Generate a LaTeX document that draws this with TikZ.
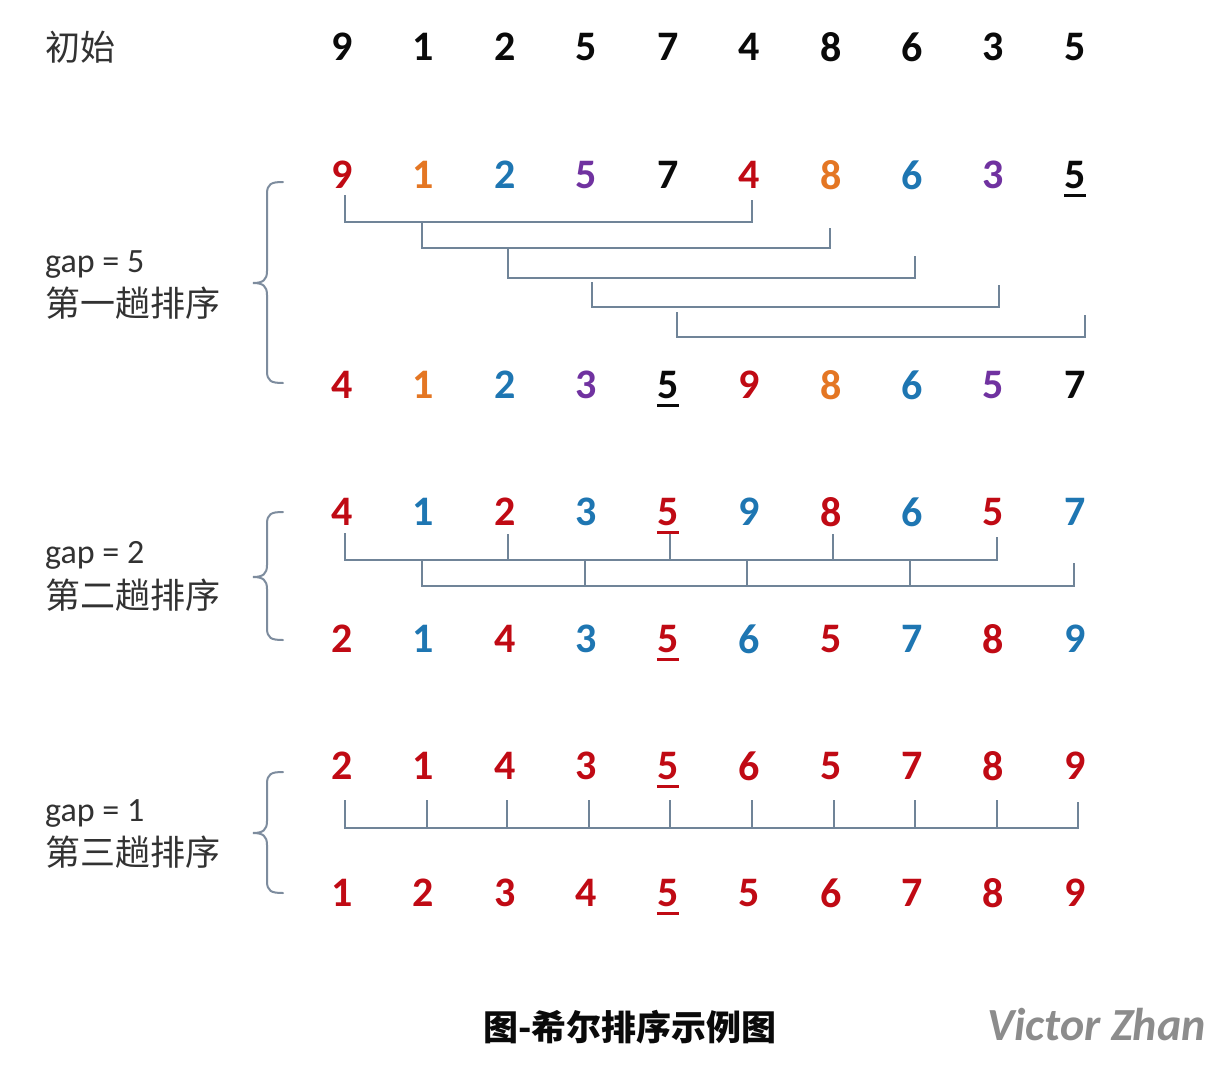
\documentclass[tikz,border=0pt]{standalone}
\usepackage{fontspec}
\setmainfont{Carlito}
\newfontfamily\cjk{Noto Sans CJK SC}
\newfontfamily\numfont{Carlito}
\definecolor{R}{RGB}{192,10,20}
\definecolor{O}{RGB}{228,118,35}
\definecolor{B}{RGB}{30,118,178}
\definecolor{P}{RGB}{112,50,160}
\definecolor{K}{RGB}{10,10,10}
\definecolor{conncol}{RGB}{112,132,152}
\definecolor{bracecol}{RGB}{125,140,158}
\definecolor{labcol}{RGB}{50,50,50}
\tikzset{
  dg/.style={font=\numfont\bfseries\fontsize{42}{42}\selectfont, inner sep=0pt, anchor=center},
  conn/.style={draw=conncol, line width=2pt},
  bracepath/.style={draw=bracecol, line width=2pt, line cap=round},
  lab/.style={font=\fontsize{34}{34}\selectfont, text=labcol, inner sep=0pt, anchor=base west},
  cjklab/.style={font=\cjk\fontsize{35}{35}\selectfont, text=labcol, inner sep=0pt, anchor=west},
  ul/.style={line width=3pt}
}
\begin{document}
\begin{tikzpicture}[x=1pt,y=-1pt]
\clip (0,0) rectangle (1208,1074);
\fill[white] (0,0) rectangle (1208,1074);

% rows of digits
\foreach \d/\c [count=\i] in {9/K,1/K,2/K,5/K,7/K,4/K,8/K,6/K,3/K,5/K}
  \node[dg,text=\c] (r1c\i) at ({342+81.44*(\i-1)},47) {\d};
\foreach \d/\c [count=\i] in {9/R,1/O,2/B,5/P,7/K,4/R,8/O,6/B,3/P,5/K}
  \node[dg,text=\c] (r2c\i) at ({342+81.44*(\i-1)},175) {\d};
\foreach \d/\c [count=\i] in {4/R,1/O,2/B,3/P,5/K,9/R,8/O,6/B,5/P,7/K}
  \node[dg,text=\c] (r3c\i) at ({342+81.44*(\i-1)},385) {\d};
\foreach \d/\c [count=\i] in {4/R,1/B,2/R,3/B,5/R,9/B,8/R,6/B,5/R,7/B}
  \node[dg,text=\c] (r4c\i) at ({342+81.44*(\i-1)},512) {\d};
\foreach \d/\c [count=\i] in {2/R,1/B,4/R,3/B,5/R,6/B,5/R,7/B,8/R,9/B}
  \node[dg,text=\c] (r5c\i) at ({342+81.44*(\i-1)},639) {\d};
\foreach \d/\c [count=\i] in {2/R,1/R,4/R,3/R,5/R,6/R,5/R,7/R,8/R,9/R}
  \node[dg,text=\c] (r6c\i) at ({342+81.44*(\i-1)},766) {\d};
\foreach \d/\c [count=\i] in {1/R,2/R,3/R,4/R,5/R,5/R,6/R,7/R,8/R,9/R}
  \node[dg,text=\c] (r7c\i) at ({342+81.44*(\i-1)},893) {\d};

% underlines
\draw[ul,K] ([yshift=-7pt]r2c10.south west) -- ([yshift=-7pt]r2c10.south east);
\draw[ul,K] ([yshift=-7pt]r3c5.south west) -- ([yshift=-7pt]r3c5.south east);
\draw[ul,R] ([yshift=-7pt]r4c5.south west) -- ([yshift=-7pt]r4c5.south east);
\draw[ul,R] ([yshift=-7pt]r5c5.south west) -- ([yshift=-7pt]r5c5.south east);
\draw[ul,R] ([yshift=-7pt]r6c5.south west) -- ([yshift=-7pt]r6c5.south east);
\draw[ul,R] ([yshift=-7pt]r7c5.south west) -- ([yshift=-7pt]r7c5.south east);

% gap = 5 connectors
\draw[conn] (345,195) |- (752,222) -- (752,200);
\draw[conn] (422,222) |- (830,248) -- (830,228);
\draw[conn] (508,248) |- (915,278) -- (915,256);
\draw[conn] (592,282) |- (999,307) -- (999,285);
\draw[conn] (677,312) |- (1085,337) -- (1085,315);

% gap = 2 connectors
\draw[conn] (345,533) |- (997,560) -- (997,537);
\foreach \x in {508,670,833} \draw[conn] (\x,534) -- (\x,560);
\draw[conn] (422,560) |- (1074,586) -- (1074,563);
\foreach \x in {585,747,910} \draw[conn] (\x,560) -- (\x,586);

% gap = 1 connector
\draw[conn] (345,800) |- (1078,828) -- (1078,802);
\foreach \x in {427,507,589,670,752,834,915,997} \draw[conn] (\x,800) -- (\x,828);

% braces
\foreach \t/\m/\b in {182/283/383, 512/577/640, 772/833/893}{
  \draw[bracepath] (283,\t) .. controls (271,\t) and (267,\t+2) .. (267,\t+12)
    -- (267,\m-12) .. controls (267,\m-3) and (263,\m) .. (253,\m)
    .. controls (263,\m) and (267,\m+3) .. (267,\m+12)
    -- (267,\b-12) .. controls (267,\b-2) and (271,\b) .. (283,\b);
}

% labels
\node[cjklab] (init) at (45,47) {初始};
\node[lab] (g5) at (45,272) {gap = 5};
\node[cjklab] (p1) at (45,303) {第一趟排序};
\node[lab] (g2) at (45,563) {gap = 2};
\node[cjklab] (p2) at (45,595) {第二趟排序};
\node[lab] (g1) at (45,821) {gap = 1};
\node[cjklab] (p3) at (45,852) {第三趟排序};

% caption and watermark
\node[font=\cjk\bfseries\fontsize{35}{35}\selectfont, text=K, inner sep=0pt] (cap) at (630,1027) {图-希尔排序示例图};
\node[font=\numfont\bfseries\itshape\fontsize{46}{46}\selectfont, text=black!45, inner sep=0pt, anchor=east] (wm) at (1206,1025) {Victor Zhan};
\end{tikzpicture}
\end{document}
